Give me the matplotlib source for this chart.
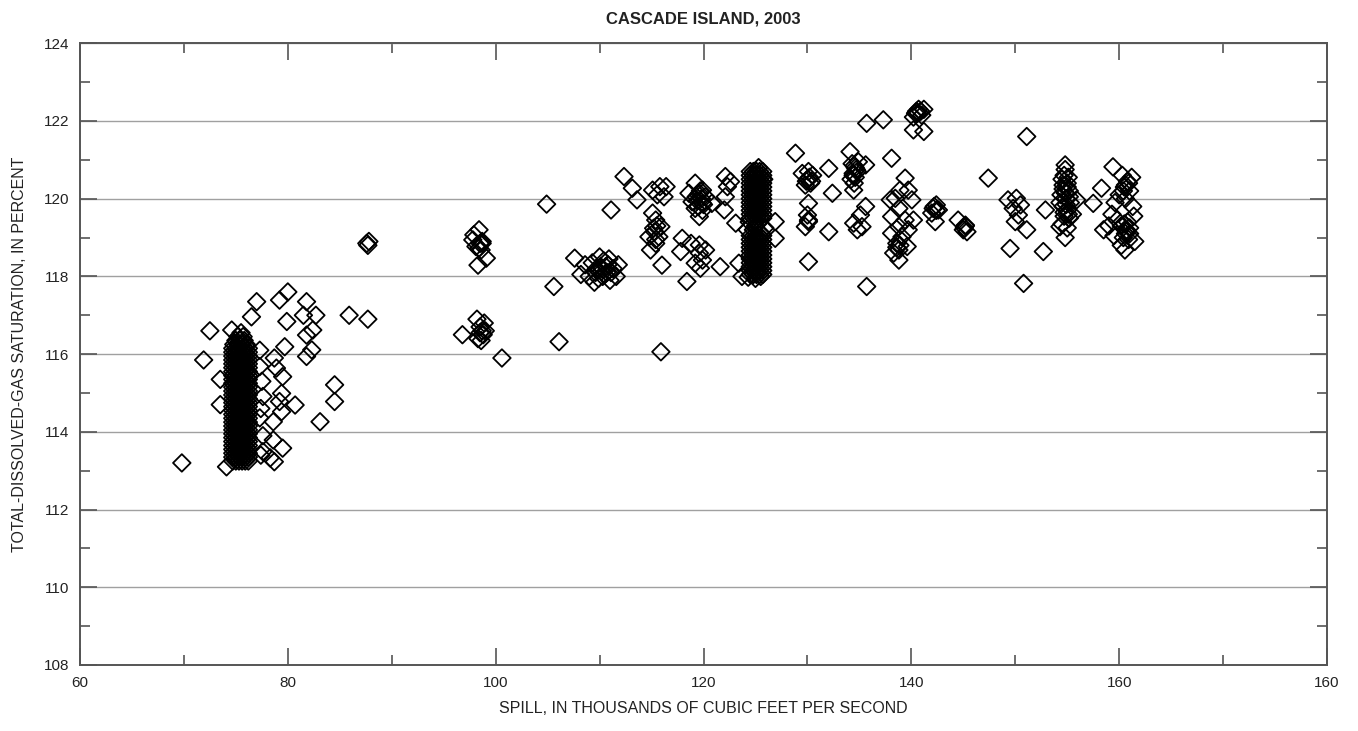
import matplotlib
matplotlib.use("Agg")
import matplotlib.pyplot as plt

plt.rcParams['font.family'] = ['Liberation Sans', 'DejaVu Sans']

# spill (thousands cfs) and TDG (percent), grouped by spill range
spill_low = [69.8, 72.5, 71.9, 74.6, 73.5, 73.5, 74.1, 77.0, 76.5, 77.3, 77.3, 77.6, 77.3,
             80.0, 79.2, 81.8, 82.7, 79.9, 81.5, 82.4, 81.8, 82.3, 81.8, 79.7, 78.7, 78.9,
             79.5, 79.4, 79.2, 80.7, 79.4, 84.5, 84.5, 83.1, 78.6, 79.5, 78.6, 78.3, 78.7,
             77.6, 85.9, 87.7, 87.6, 87.7, 87.8, 77.5, 77.4, 77.6, 77.4]
tdg_low = [113.2, 116.6, 115.85, 116.62, 115.35, 114.7, 113.1, 117.35, 116.96, 116.1, 115.68,
           114.91, 114.36, 117.6, 117.39, 117.35, 117.0, 116.84, 117.0, 116.62, 116.49, 116.11,
           115.94, 116.19, 115.9, 115.64, 115.42, 114.99, 114.78, 114.69, 114.52, 115.21,
           114.78, 114.26, 114.26, 113.58, 113.79, 113.33, 113.23, 113.49, 117.0, 116.9,
           118.85, 118.8, 118.9, 115.3, 114.6, 113.9, 113.4]

# the dense column near 75 kcfs: row levels and the spill values in each row
col_x_full = [74.7, 75.0, 75.3, 75.6, 75.9, 76.2]
col_top_y = [116.55, 116.45, 116.35, 116.25]
col_top_x = [[75.5], [75.2, 75.7], [75.0, 75.4, 75.8], [74.8, 75.2, 75.6, 76.0]]
col_y = [116.15, 116.05, 115.95, 115.85, 115.75, 115.65, 115.55, 115.45, 115.35, 115.25,
         115.15, 115.05, 114.95, 114.85, 114.75, 114.65, 114.55, 114.45, 114.35, 114.25,
         114.15, 114.05, 113.95, 113.85, 113.75, 113.65, 113.55, 113.45, 113.35, 113.25]

spill_mid = [96.8, 98.2, 98.5, 98.8, 98.3, 99.0, 98.6, 98.9, 100.6, 98.4, 97.9, 98.1, 98.6,
             99.1, 98.3, 97.8, 98.7, 98.4, 104.9, 105.6, 106.1, 111.1, 107.6, 108.6, 109.0,
             109.3, 109.6, 109.9, 110.1, 110.4, 110.7, 111.0, 111.3, 111.6, 109.5, 110.3,
             110.9, 111.8, 108.2, 110.0, 112.35, 113.15, 113.6, 115.8, 116.4, 115.55, 116.2,
             115.1, 115.4, 115.2, 114.75, 115.7, 115.4, 114.9, 115.9, 115.1, 116.0, 115.9,
             118.4, 117.95, 117.8, 118.8, 119.6, 119.6, 119.9, 119.2, 120.2, 121.6, 119.7,
             119.2, 119.6, 118.6, 119.9, 119.2, 120.2, 120.8, 118.9, 119.6, 119.9, 122.1,
             122.3, 122.0, 122.1, 122.6, 123.1, 124.2, 126.9, 126.9, 123.4, 123.7,
             98.5, 98.7, 98.5, 98.7, 109.8, 110.2, 110.6, 109.7, 110.5, 111.1, 110.8,
             115.3, 115.5, 115.4, 119.4, 119.8, 119.5, 120.0, 119.3, 119.7, 119.5, 119.9]
tdg_mid = [116.5, 116.9, 116.7, 116.5, 116.4, 116.6, 116.35, 116.8, 115.9, 119.2, 119.07,
           118.77, 118.68, 118.47, 118.29, 118.94, 118.85, 118.73, 119.86, 117.74, 116.32,
           119.71, 118.47, 118.3, 118.0, 118.35, 118.1, 117.95, 118.25, 118.4, 118.1, 117.9,
           118.2, 118.0, 117.85, 118.0, 118.45, 118.3, 118.05, 118.5, 120.57, 120.27, 119.97,
           120.31, 120.31, 120.1, 120.05, 120.22, 119.45, 119.24, 119.02, 119.02, 118.85,
           118.68, 119.28, 119.63, 118.29, 116.06, 117.87, 118.98, 118.64, 118.85, 118.81,
           118.6, 118.42, 118.34, 118.68, 118.25, 118.21, 120.4, 120.14, 120.14, 119.88,
           119.75, 120.05, 119.88, 119.92, 119.54, 120.22, 120.57, 120.31, 119.71, 120.05,
           120.44, 119.37, 119.2, 119.41, 118.98, 118.34, 118.0,
           118.85, 118.9, 116.55, 116.6, 118.15, 118.2, 118.25, 118.2, 118.05, 118.1, 118.3,
           119.15, 119.3, 118.95, 119.95, 120.0, 119.8, 119.85, 120.05, 120.2, 120.1, 119.7]

# the column near 125 kcfs
col125_x = [124.5, 124.8, 125.1, 125.4, 125.7]
col125_y = [120.7, 120.6, 120.5, 120.4, 120.3, 120.2, 120.1, 120.0, 119.9, 119.8, 119.7,
            119.6, 119.5, 119.05, 118.95, 118.85, 118.75, 118.65, 118.55, 118.45, 118.35,
            118.25, 118.15, 118.05]
spill_125 = [125.3, 124.4, 125.0, 125.6, 124.8, 125.2, 124.3, 125.0, 125.5, 125.9, 125.8]
tdg_125 = [120.8, 119.4, 119.3, 119.1, 119.2, 119.35, 117.98, 117.95, 118.0, 119.25, 120.5]

spill_high = [130.1, 130.1, 130.0, 130.1, 129.5, 130.0, 130.5, 129.8, 130.3, 130.1, 128.85,
              132.05, 132.4, 130.1, 129.8, 132.05, 135.7, 137.3, 140.5, 141.0, 140.7, 140.2,
              141.2, 140.2, 141.2, 134.3, 134.6, 134.4, 134.8, 134.5, 134.2, 134.9, 134.1,
              135.6, 134.45, 138.1, 135.1, 134.45, 134.8, 135.6, 135.25, 135.7, 139.4, 139.7,
              138.9, 138.45, 140.05, 137.97, 138.8, 138.1, 139.4, 140.2, 138.8, 139.7, 139.1,
              138.1, 138.6, 138.8, 138.3, 138.8, 139.6, 142.1, 142.4, 141.96, 142.3, 142.6,
              145.2, 145.0, 145.35, 144.5, 147.4, 151.1, 149.3, 150.1, 150.5, 149.8, 150.3,
              150.0, 151.1, 149.5, 152.7, 150.8, 152.9,
              140.6, 140.9, 140.4, 134.5, 134.7, 134.4, 134.6, 130.2, 129.9, 130.4, 142.2,
              142.4, 145.1, 145.2, 138.6, 138.9]
tdg_high = [118.38, 119.41, 119.58, 119.88, 120.65, 120.5, 120.6, 120.35, 120.4, 120.7,
            121.17, 120.78, 120.14, 119.45, 119.28, 119.15, 121.94, 122.03, 122.25, 122.15,
            122.3, 122.1, 122.3, 121.77, 121.73, 120.9, 120.8, 120.6, 120.7, 120.4, 120.5,
            120.95, 121.21, 120.87, 120.22, 121.04, 119.58, 119.37, 119.2, 119.8, 119.28,
            117.74, 120.53, 120.22, 120.22, 120.01, 119.97, 119.97, 119.75, 119.54, 119.45,
            119.45, 119.28, 119.2, 119.02, 119.11, 118.85, 118.68, 118.6, 118.42, 118.77,
            119.75, 119.84, 119.63, 119.41, 119.71, 119.32, 119.2, 119.15, 119.45, 120.53,
            121.6, 119.97, 120.01, 119.84, 119.75, 119.58, 119.41, 119.2, 118.72, 118.64,
            117.82, 119.71,
            122.2, 122.25, 122.2, 120.85, 120.75, 120.65, 120.55, 120.55, 120.45, 120.45,
            119.8, 119.7, 119.25, 119.3, 118.75, 118.8]

spill_top = [154.8, 154.5, 155.0, 154.6, 155.2, 154.4, 154.9, 155.3, 154.6, 155.0, 154.7,
             155.2, 154.5, 155.0, 154.8, 155.5, 154.3, 154.8, 154.3, 155.9, 157.5, 159.4,
             158.3, 160.3, 160.8, 161.2, 160.5, 161.0, 160.0, 160.6, 161.3, 159.6, 159.3,
             159.8, 160.2, 160.7, 161.0, 160.4, 160.9, 160.2, 161.5, 159.0, 159.5, 161.4,
             160.55, 158.5,
             154.7, 155.1, 154.6, 155.0, 154.8, 155.2, 154.9, 154.7, 155.1, 160.6, 160.9,
             160.4, 161.0, 160.7, 160.5, 160.8, 160.6]
tdg_top = [120.75, 120.5, 120.4, 120.25, 120.2, 120.1, 120.0, 119.9, 119.8, 119.7, 119.55,
           119.5, 119.35, 119.25, 119.0, 119.6, 119.9, 120.87, 119.28, 119.97, 119.88, 120.82,
           120.27, 120.6, 120.45, 120.55, 120.3, 120.2, 120.1, 120.0, 119.8, 119.9, 119.6,
           119.45, 119.3, 119.2, 119.1, 119.0, 118.95, 118.8, 118.9, 119.3, 119.05, 119.55,
           118.68, 119.2,
           120.6, 120.55, 120.35, 120.3, 120.15, 120.05, 119.85, 119.65, 119.6, 120.35, 120.4,
           120.2, 119.25, 119.15, 119.35, 119.4, 119.1]

xtick_vals = [60, 80, 100, 120, 140, 160, 180]
xtick_text = ['60', '80', '100', '120', '140', '160', '160']
ytick_vals = [108, 110, 112, 114, 116, 118, 120, 122, 124]

# expand the two dense columns into point lists
spill_col, tdg_col = [], []
for yv, xs in zip(col_top_y, col_top_x):
    spill_col += xs
    tdg_col += [yv] * len(xs)
for yv in col_y:
    spill_col += col_x_full
    tdg_col += [yv] * len(col_x_full)
for yv in col125_y:
    spill_125 += col125_x
    tdg_125 += [yv] * len(col125_x)

fig = plt.figure(figsize=(13.58, 7.31), dpi=100)
ax = fig.add_axes([0.0589, 0.0903, 0.9183, 0.8505])

groups = [(spill_low, tdg_low), (spill_col, tdg_col), (spill_mid, tdg_mid),
          (spill_125, tdg_125), (spill_high, tdg_high), (spill_top, tdg_top)]
for sx, sy in groups:
    ax.scatter(sx, sy, marker='D', s=80, facecolors='none', edgecolors='black',
               linewidths=1.3, zorder=3)

ax.set_xlim(60, 180)
ax.set_ylim(108, 124)
ax.set_xticks(xtick_vals)
ax.set_xticklabels(xtick_text)
ax.set_xticks(range(70, 180, 20), minor=True)
ax.set_yticks(ytick_vals)
ax.set_yticks(range(109, 124, 2), minor=True)
ax.grid(axis='y', which='major', color='#a0a0a0', linewidth=1.0, zorder=0)

for sp in ax.spines.values():
    sp.set_color('#555555')
    sp.set_linewidth(1.4)
ax.tick_params(which='both', direction='in', top=True, right=True, colors='#555555',
               labelcolor='#222222', labelsize=11, width=1.2)
ax.tick_params(which='major', length=12, pad=8)
ax.tick_params(which='minor', length=7)

ax.set_title('CASCADE ISLAND, 2003', fontsize=12, fontweight='bold', pad=14, color='#222222')
ax.set_xlabel('SPILL, IN THOUSANDS OF CUBIC FEET PER SECOND', fontsize=11.5, color='#222222',
              labelpad=8)
ax.set_ylabel('TOTAL-DISSOLVED-GAS SATURATION, IN PERCENT', fontsize=11.5, color='#222222',
              labelpad=12)

fig.savefig('out.png', dpi=100)
